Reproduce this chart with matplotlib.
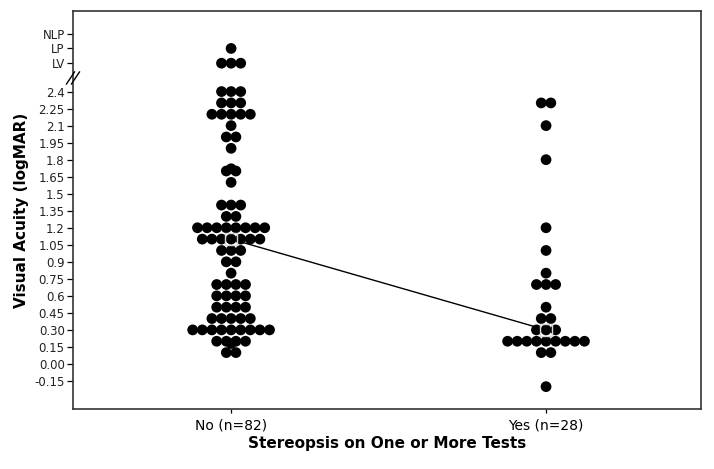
import numpy as np
import matplotlib
matplotlib.use("Agg")
import matplotlib.pyplot as plt

# Data (logMAR; LV / LP sit above the axis break)
LV, LP, NLP = 2.65, 2.78, 2.91

groups = ["No (n=82)", "Yes (n=28)"]

no_values = [LP, LV, 2.4, 2.3, 2.2, 2.1, 2.0, 1.9, 1.72, 1.7, 1.6, 1.4, 1.3, 1.2,
             1.1, 1.0, 0.9, 0.8, 0.7, 0.6, 0.5, 0.4, 0.3, 0.2, 0.18, 0.1]
no_counts = [1, 3, 3, 3, 5, 1, 2, 1, 1, 2, 1, 3, 2, 8,
             7, 3, 2, 1, 4, 4, 4, 5, 9, 4, 1, 2]

yes_values = [2.3, 2.1, 1.8, 1.2, 1.0, 0.8, 0.7, 0.5, 0.4, 0.3, 0.2, 0.1, -0.2]
yes_counts = [2, 1, 1, 1, 1, 1, 3, 1, 2, 3, 9, 2, 1]

ytick_vals = [-0.15, 0.0, 0.15, 0.30, 0.45, 0.6, 0.75, 0.9, 1.05, 1.2, 1.35, 1.5,
              1.65, 1.8, 1.95, 2.1, 2.25, 2.4, LV, LP, NLP]
ytick_labels = ["-0.15", "0.00", "0.15", "0.30", "0.45", "0.6", "0.75", "0.9", "1.05",
                "1.2", "1.35", "1.5", "1.65", "1.8", "1.95", "2.1", "2.25", "2.4",
                "LV", "LP", "NLP"]

DOT_STEP = 0.0305  # horizontal spacing of stacked dots (x data units)

fig = plt.figure(figsize=(7.14, 4.69), dpi=100)
ax = fig.add_axes([73 / 714, 60 / 469, 628 / 714, 398 / 469])

medians = []
for gi, (vals, cnts) in enumerate([(no_values, no_counts), (yes_values, yes_counts)]):
    xs, ys = [], []
    for v, c in zip(vals, cnts):
        for i in range(c):
            xs.append(gi + (i - (c - 1) / 2) * DOT_STEP)
            ys.append(v)
    ax.scatter(xs, ys, s=60, color="black", edgecolors="none", zorder=3)
    medians.append(np.median(np.repeat(vals, cnts)))

# median line and markers
ax.plot([0, 1], medians, color="black", lw=1.0, zorder=2)
ax.plot([0, 1], medians, linestyle="none", marker="s", markersize=8.5,
        mfc="none", mec="#d8d8d8", mew=1.0, zorder=4)

ax.set_xlim(-0.502, 1.492)
ax.set_ylim(-0.397, 3.11)

ax.set_xticks([0, 1])
ax.set_xticklabels(groups, fontsize=10)
ax.set_yticks(ytick_vals)
ax.set_yticklabels(ytick_labels, fontsize=8.5, color="#222222")
ax.tick_params(axis="y", length=4, width=0.9, pad=2)
ax.tick_params(axis="x", length=3, width=0.9, pad=4)

for sp in ax.spines.values():
    sp.set_color("#333333")
    sp.set_linewidth(1.2)

# axis break marks ("//") on the left spine, between LV and 2.4
px_x, px_y = 1 / 628, 1 / 398
yb = (2.52 + 0.397) / 3.507
for off in (-2.5, 2.5):
    ax.plot([(off - 4) * px_x, (off + 4) * px_x],
            [yb - 6 * px_y, yb + 6 * px_y],
            transform=ax.transAxes, color="black", lw=1.0, clip_on=False, zorder=5)

ax.set_xlabel("Stereopsis on One or More Tests", fontsize=11, fontweight="bold", labelpad=2)
ax.set_ylabel("Visual Acuity (logMAR)", fontsize=11, fontweight="bold", labelpad=4)

fig.savefig("out.png", dpi=100)
